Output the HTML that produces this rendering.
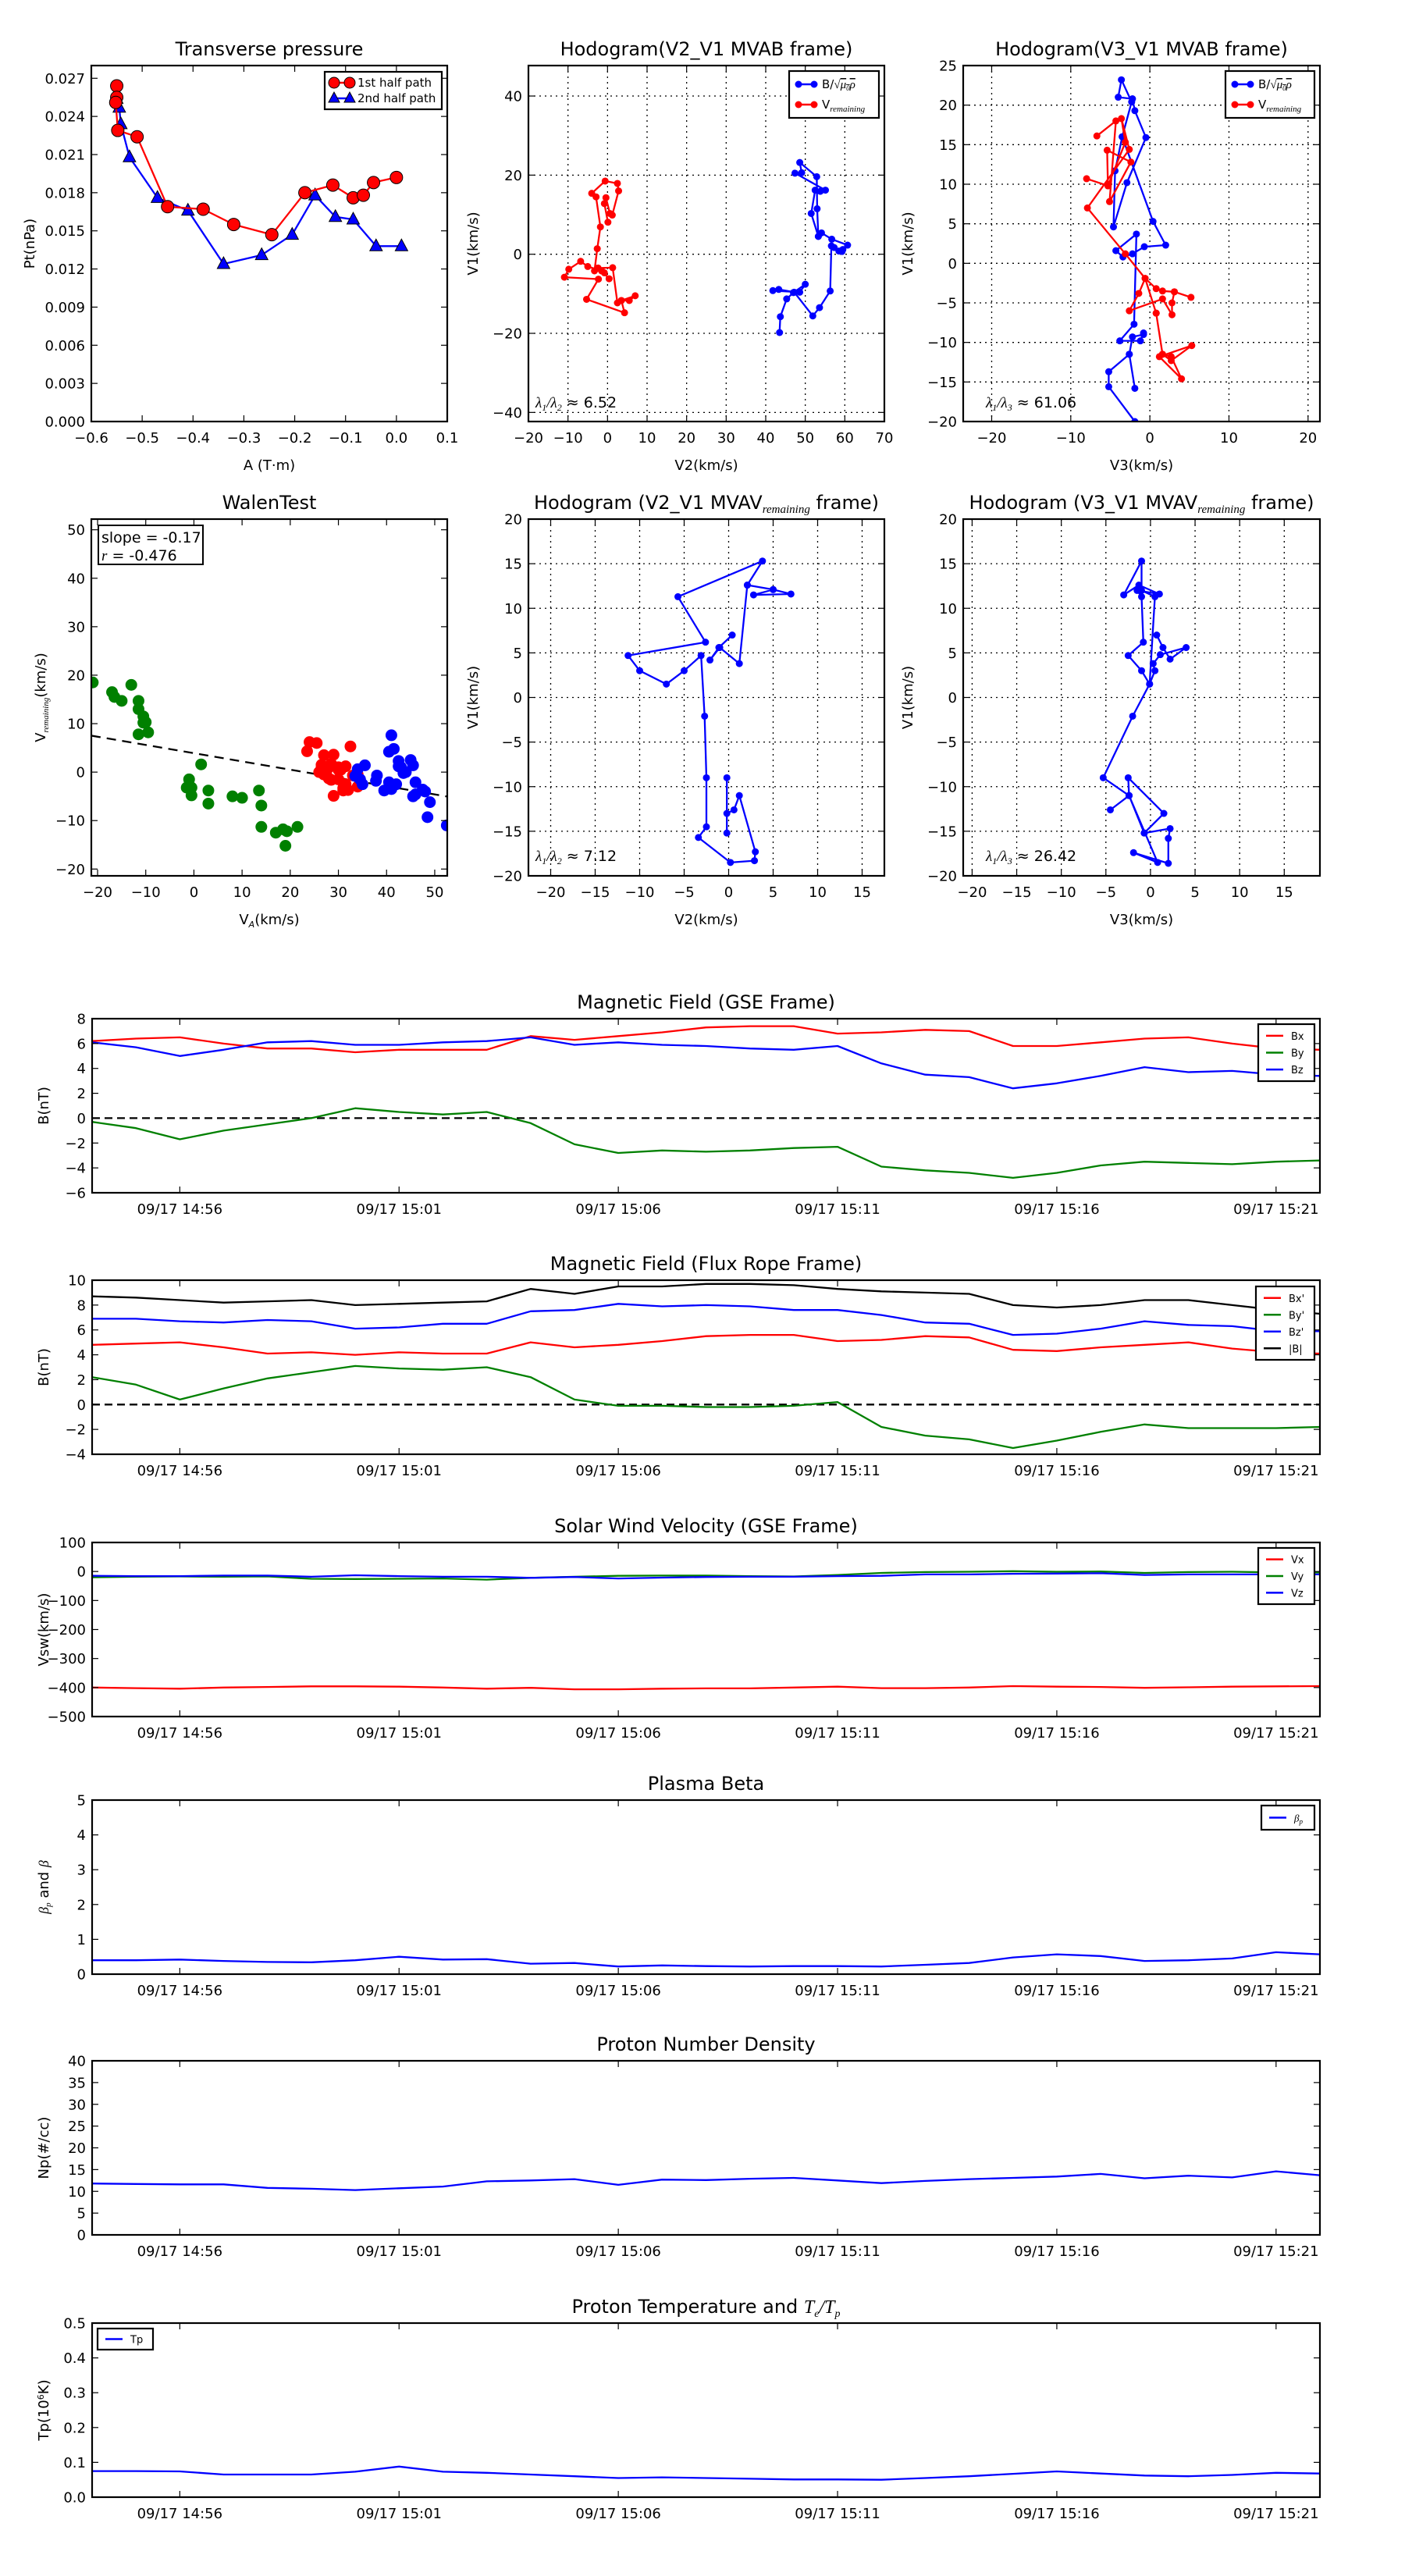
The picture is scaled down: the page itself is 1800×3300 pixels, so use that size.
<!DOCTYPE html>
<html><head><meta charset="utf-8"><style>
html,body{margin:0;padding:0;background:#fff}
svg{display:block;font-family:"DejaVu Sans","Liberation Sans",sans-serif}
</style></head><body>
<svg id="fig" xmlns="http://www.w3.org/2000/svg" width="1800" height="3300" viewBox="0 0 1800 3300"></svg>
<script>
// ---------- data ----------
const ptRedA=[-0.55,-0.55,-0.552,-0.548,-0.51,-0.45,-0.38,-0.32,-0.245,-0.18,-0.125,-0.085,-0.065,-0.045,0.0];
const ptRedP=[0.0264,0.0255,0.0251,0.0229,0.0224,0.0169,0.0167,0.0155,0.0147,0.0180,0.0186,0.0176,0.0178,0.0188,0.0192];
const ptBlueA=[-0.55,-0.545,-0.542,-0.525,-0.47,-0.41,-0.34,-0.265,-0.205,-0.16,-0.12,-0.085,-0.04,0.01];
const ptBlueP=[0.0254,0.0247,0.0234,0.0208,0.0176,0.0166,0.0124,0.0131,0.0147,0.0178,0.0161,0.0159,0.0138,0.0138];

const h1BlueV2=[43.5,43.7,45.3,47,50,48.6,41.8,43.3,47.2,51.9,53.6,56.3,56.6,57.3,59.3,58.5,59.5,60.7,56.7,54.1,53.3,51.5,52.5,53.8,55.1,47.4,49.1,48.6,52.9,53,53.3];
const h1BlueV1=[-19.8,-15.8,-11.3,-9.7,-7.6,-9.6,-9.2,-8.9,-9.6,-15.6,-13.5,-9.3,2.1,1.7,0.7,0.8,1.2,2.3,3.8,5.4,4.5,10.3,16.2,15.9,16.2,20.5,20.6,23.2,19.6,11.5,4.5];
const h1RedV2=[0.1,-0.8,-0.4,0.6,1.2,2.8,2.5,-0.6,-4,-2.9,-1.8,-2.6,-3.3,-2.4,-1.5,-0.8,0.4,-1.5,-5,-6.8,-9.8,-10.9,-2.3,-5.3,4.3,3.5,5.5,7,3.5,2.5,1.3,-2.4];
const h1RedV1=[8.1,12.8,14.3,10.3,9.9,16,17.9,18.5,15.4,14.5,6.9,1.4,-4.2,-3.5,-4.2,-4.7,-6.2,-4.2,-3.1,-1.8,-3.8,-5.8,-6.3,-11.4,-14.8,-11.7,-11.7,-10.5,-11.7,-12.3,-3.4,-3.5];

const h2BlueV3=[-1.9,-5.2,-5.2,-2.6,-1.9,-2.6,-2.2,-0.8,-0.8,-1.2,-3.8,-2,-1.7,-4.3,-3.4,-2.2,-0.7,2,0.4,-3.5,-2.3,-3.6,-4,-2.2,-1.9,-0.5,-2.9,-4.6,-4.4,-3.5];
const h2BlueV1=[-20,-15.6,-13.7,-11.5,-15.8,-11.5,-9.3,-9.0,-8.8,-9.8,-9.8,-7.7,3.7,1.6,0.8,1.2,2.1,2.3,5.3,16,20.4,23.2,21,20.8,19.3,15.9,10.2,4.6,11.7,16];
const h2RedV3=[-6.7,-4.3,-5.1,-2.4,-5.4,-5.3,-8,-5.3,-3.1,-3.6,-2.6,-7.9,-3.1,-0.6,0.8,1.6,3.1,5.2,3.1,2.8,2.8,1.6,-2.6,-1.4,-0.6,0.8,1.6,2.7,5.3,1.2,4,2.7,1.6,0.8];
const h2RedV1=[16.1,18,7.8,12.8,14.3,9.8,10.7,9.8,15.3,18.3,14.4,7,1.2,-1.9,-3.2,-3.5,-3.6,-4.3,-3.6,-5,-6.5,-4.5,-6,-3.8,-1.9,-6.3,-11.5,-12.3,-10.4,-11.8,-14.6,-11.8,-11.5,-6.3];

const walGreenX=[-21,-17,-16.5,-15,-13,-11.5,-11.5,-10.5,-10,-10.5,-11.5,-9.5,1.5,-1,-0.5,-0.5,-1.5,3,3,8,10,13.5,14,14,17,18.5,19.3,19,21.5];
const walGreenY=[18.5,16.5,15.5,14.7,18,14.7,13,11.5,10.3,10.2,7.8,8.2,1.6,-1.5,-3.2,-4.8,-3.2,-3.8,-6.5,-5,-5.3,-3.8,-6.9,-11.3,-12.5,-11.8,-12.2,-15.2,-11.3];
const walRedX=[24,25.5,23.5,27,29,26.5,26,28,28.5,30,30.5,31.5,32.5,27,28,28.5,30,31,31.5,29,33,27.5,26.5,30,34,32,34,31];
const walRedY=[6.2,6,4.3,3.5,3.6,1.5,0,1,1.7,1,0.5,1.2,5.3,-0.5,-1.3,-1.6,-1.5,-3.3,-2.5,-4.9,-0.7,0.2,1,0.5,-0.5,-3.7,-3,-3.8];
const walBlueX=[41,40.5,41.5,42.5,43,44,45,45.5,43.5,42,40.5,38,39.5,35.5,34,33.5,35,34.5,46,45.5,47.5,48,49,48.5,52.5,46,42.5,37.8,41];
const walBlueY=[7.6,4.2,4.8,2.3,1,0,2.5,1.4,-0.2,-2.5,-2.1,-0.7,-3.8,1.4,0.6,-0.8,-2.5,-1.5,-2.1,-5,-3.6,-4,-6.2,-9.3,-11,-4.6,1.2,-1.8,-3.5];

const h3V2=[-0.2,-0.2,-0.2,0.6,1.2,3,2.9,0.2,-3.4,-2.5,-2.5,-2.7,-3.1,-5,-7,-10,-11.3,-2.6,-5.7,3.8,2.1,5,7,2.8,5,2.1,1.2,-1,-2.1,-1.1,0.4];
const h3V1=[-15.2,-9,-13,-12.6,-11,-17.3,-18.3,-18.5,-15.7,-14.5,-9,-2.1,4.7,3,1.5,3,4.7,6.2,11.3,15.3,12.6,12.1,11.6,11.5,12.1,12.6,3.8,5.6,4.2,5.6,7];
const h4V3=[0.7,1.4,2.2,4,1.1,0.3,0.5,-0.1,-1,-2.5,-0.8,-1,-1.5,1,-1.3,-3,-1,-1,0.5,-0.1,-2,-5.3,-2.4,-4.5,-2.4,-0.7,1.5,-2.5,-2.4,0.8,-1.9,2,2,2.2,-0.7];
const h4V1=[7,5.6,4.3,5.6,4.8,3.8,3,1.5,3,4.7,6.2,11.3,12,11.6,12.6,11.5,15.3,12,11.3,1.5,-2.1,-9,-11,-12.6,-11,-15.2,-13,-9,-11,-18.5,-17.4,-18.6,-15.8,-14.7,-15.2];

// time series: minutes after 14:54, one sample per minute
const tMin=[0,1,2,3,4,5,6,7,8,9,10,11,12,13,14,15,16,17,18,19,20,21,22,23,24,25,26,27,28];
const timeTicks=[2,7,12,17,22,27];
const timeLabels=["09/17 14:56","09/17 15:01","09/17 15:06","09/17 15:11","09/17 15:16","09/17 15:21"];
const bx=[6.2,6.4,6.5,6.0,5.6,5.6,5.3,5.5,5.5,5.5,6.6,6.3,6.6,6.9,7.3,7.4,7.4,6.8,6.9,7.1,7.0,5.8,5.8,6.1,6.4,6.5,6.0,5.6,5.5];
const by=[-0.3,-0.8,-1.7,-1.0,-0.5,0.0,0.8,0.5,0.3,0.5,-0.4,-2.1,-2.8,-2.6,-2.7,-2.6,-2.4,-2.3,-3.9,-4.2,-4.4,-4.8,-4.4,-3.8,-3.5,-3.6,-3.7,-3.5,-3.4];
const bz=[6.1,5.7,5.0,5.5,6.1,6.2,5.9,5.9,6.1,6.2,6.5,5.9,6.1,5.9,5.8,5.6,5.5,5.8,4.4,3.5,3.3,2.4,2.8,3.4,4.1,3.7,3.8,3.5,3.4];
const bxp=[4.8,4.9,5.0,4.6,4.1,4.2,4.0,4.2,4.1,4.1,5.0,4.6,4.8,5.1,5.5,5.6,5.6,5.1,5.2,5.5,5.4,4.4,4.3,4.6,4.8,5.0,4.5,4.2,4.1];
const byp=[2.2,1.6,0.4,1.3,2.1,2.6,3.1,2.9,2.8,3.0,2.2,0.4,-0.1,-0.1,-0.2,-0.2,-0.1,0.2,-1.8,-2.5,-2.8,-3.5,-2.9,-2.2,-1.6,-1.9,-1.9,-1.9,-1.8];
const bzp=[6.9,6.9,6.7,6.6,6.8,6.7,6.1,6.2,6.5,6.5,7.5,7.6,8.1,7.9,8.0,7.9,7.6,7.6,7.2,6.6,6.5,5.6,5.7,6.1,6.7,6.4,6.3,5.9,5.9];
const bmag=[8.7,8.6,8.4,8.2,8.3,8.4,8.0,8.1,8.2,8.3,9.3,8.9,9.5,9.5,9.7,9.7,9.6,9.3,9.1,9.0,8.9,8.0,7.8,8.0,8.4,8.4,8.0,7.6,7.3];
const vx=[-400,-402,-404,-400,-398,-396,-396,-397,-400,-404,-401,-406,-406,-404,-403,-403,-400,-397,-402,-402,-400,-395,-397,-398,-401,-399,-397,-396,-395];
const vy=[-20,-18,-17,-18,-17,-25,-26,-25,-24,-28,-22,-18,-15,-14,-14,-16,-17,-12,-5,-2,-1,1,-1,0,-5,-2,-1,-3,-3];
const vz=[-15,-16,-16,-14,-14,-18,-13,-16,-18,-18,-22,-19,-24,-21,-19,-18,-18,-16,-15,-10,-10,-8,-7,-6,-12,-10,-10,-10,-10];
const betaP=[0.4,0.4,0.42,0.38,0.35,0.34,0.4,0.5,0.42,0.43,0.3,0.32,0.22,0.25,0.23,0.22,0.23,0.23,0.22,0.27,0.32,0.48,0.57,0.52,0.38,0.4,0.45,0.63,0.57];
const np=[11.8,11.7,11.6,11.6,10.8,10.6,10.3,10.7,11.1,12.3,12.5,12.8,11.5,12.7,12.6,12.9,13.1,12.5,11.9,12.4,12.8,13.1,13.4,14.0,13.0,13.6,13.2,14.6,13.7];
const tp=[0.075,0.075,0.074,0.065,0.065,0.065,0.073,0.088,0.073,0.07,0.065,0.06,0.055,0.057,0.055,0.053,0.051,0.051,0.05,0.055,0.06,0.067,0.074,0.068,0.062,0.06,0.064,0.07,0.068];

// ---------- helpers ----------
const NS="http://www.w3.org/2000/svg";
const fig=document.getElementById('fig');
let clipN=0;
function el(tag,attrs,parent,text){const e=document.createElementNS(NS,tag);for(const k in attrs)e.setAttribute(k,attrs[k]);if(text!==undefined)e.textContent=text;(parent||fig).appendChild(e);return e;}
function fmt(v,dec){let s=dec!==undefined?Math.abs(v).toFixed(dec):String(Math.abs(+v.toFixed(6)));return (v<0?'\u2212':'')+s;}
function panel(o){
  const g=el('g',{});
  
  
  const sx=v=>o.x+(v-o.xmin)/(o.xmax-o.xmin)*o.w;
  const sy=v=>o.y+o.h-(v-o.ymin)/(o.ymax-o.ymin)*o.h;
  const id='c'+(clipN++);
  const cp=el('clipPath',{id:id},g);el('rect',{x:o.x,y:o.y,width:o.w,height:o.h},cp);
  const data=el('g',{'clip-path':'url(#'+id+')'},g);
  const axg=el('g',{},g);
  // grid
  if(o.grid){
    o.xticks.forEach(t=>{const l=el('line',{x1:sx(t),x2:sx(t),y1:o.y,y2:o.y+o.h,stroke:'#000','stroke-width':1.3,'stroke-dasharray':'2,5'},data);});
    o.yticks.forEach(t=>{el('line',{x1:o.x,x2:o.x+o.w,y1:sy(t),y2:sy(t),stroke:'#000','stroke-width':1.3,'stroke-dasharray':'2,5'},data);});
  }
  // ticks
  const tk=8;
  o.xticks.forEach((t,i)=>{const X=sx(t);
    el('line',{x1:X,x2:X,y1:o.y+o.h,y2:o.y+o.h-tk,stroke:'#000','stroke-width':1.2},axg);
    el('line',{x1:X,x2:X,y1:o.y,y2:o.y+tk,stroke:'#000','stroke-width':1.2},axg);
    const lab=o.xlabels?o.xlabels[i]:fmt(t,o.xdec);
    const tx=el('text',{x:X,y:o.y+o.h+27,'font-size':18,'text-anchor':'middle'},axg,lab);
    
    
  });
  o.yticks.forEach(t=>{const Y=sy(t);
    el('line',{x1:o.x,x2:o.x+tk,y1:Y,y2:Y,stroke:'#000','stroke-width':1.2},axg);
    el('line',{x1:o.x+o.w,x2:o.x+o.w-tk,y1:Y,y2:Y,stroke:'#000','stroke-width':1.2},axg);
    const ty=el('text',{x:o.x-8,y:Y+6.5,'font-size':18,'text-anchor':'end'},axg,fmt(t,o.ydec));
    
    
  });
  el('rect',{x:o.x,y:o.y,width:o.w,height:o.h,fill:'none',stroke:'#000','stroke-width':2.2},axg);
  const tt=el('text',{x:o.x+o.w/2,y:o.y-13,'font-size':o.tsize||24,'text-anchor':'middle'},axg);
  tt.innerHTML=o.title;
  
  
  if(o.xlabel){const xl=el('text',{x:o.x+o.w/2,y:o.y+o.h+62,'font-size':18,'text-anchor':'middle'},axg);xl.innerHTML=o.xlabel;
    
    }
  if(o.ylabel){const yx=o.ylx||o.x-62;const yl=el('text',{x:yx,y:o.y+o.h/2,'font-size':18,'text-anchor':'middle',transform:`rotate(-90 ${yx} ${o.y+o.h/2})`},axg);yl.innerHTML=o.ylabel;
    
    }
  return {sx,sy,data,g};
}
function line(p,xs,ys,color,name,marker,dash){
  const pts=xs.map((x,i)=>p.sx(x).toFixed(1)+','+p.sy(ys[i]).toFixed(1)).join(' ');
  const pl=el('polyline',{points:pts,fill:'none',stroke:color,'stroke-width':2.3,'stroke-linejoin':'round'},p.data);
  if(dash)pl.setAttribute('stroke-dasharray',dash);
  
  
  if(marker){xs.forEach((x,i)=>{
    let m;
    if(marker==='tri'){const X=p.sx(x),Y=p.sy(ys[i]);m=el('polygon',{points:`${X},${Y-9} ${X-8},${Y+6} ${X+8},${Y+6}`,fill:color,stroke:'#000','stroke-width':1},p.data);}
    else if(marker==='big'){m=el('circle',{cx:p.sx(x),cy:p.sy(ys[i]),r:8,fill:color,stroke:'#000','stroke-width':1},p.data);}
    else {m=el('circle',{cx:p.sx(x),cy:p.sy(ys[i]),r:4.5,fill:color},p.data);}
    
    
  });}
}
function scatter(p,xs,ys,color,name){xs.forEach((x,i)=>{const c=el('circle',{cx:p.sx(x),cy:p.sy(ys[i]),r:7.5,fill:color},p.data);
  
  });}
function legend(x,y,w,h,items,name,fs){
  const g=el('g',{});
  
  
  el('rect',{x:x,y:y,width:w,height:h,fill:'#fff',stroke:'#000','stroke-width':2.2},g);
  const step=(h-8)/items.length;
  items.forEach((it,i)=>{const Y=y+4+step*(i+0.5);
    el('line',{x1:x+10,x2:x+32,y1:Y,y2:Y,stroke:it.c,'stroke-width':2.5},g);
    if(it.m==='dot'){el('circle',{cx:x+12,cy:Y,r:4.5,fill:it.c},g);el('circle',{cx:x+32,cy:Y,r:4.5,fill:it.c},g);}
    if(it.m==='big'){el('circle',{cx:x+12,cy:Y,r:7,fill:it.c,stroke:'#000'},g);el('circle',{cx:x+32,cy:Y,r:7,fill:it.c,stroke:'#000'},g);}
    if(it.m==='tri'){[x+12,x+32].forEach(X=>el('polygon',{points:`${X},${Y-8} ${X-7},${Y+5} ${X+7},${Y+5}`,fill:it.c,stroke:'#000'},g));}
    const t=el('text',{x:x+42,y:Y+5,'font-size':fs||14},g);t.innerHTML=it.t;
    
    
  });
}
function note(x,y,html,name,fs){const t=el('text',{x:x,y:y,'font-size':fs||19},fig);t.innerHTML=html;
  
  }

const remSub='<tspan font-style="italic" font-family="Liberation Serif" font-size="11" dy="4">remaining</tspan>';
const sqrtTxt='B/<tspan font-family="Liberation Serif">√</tspan><tspan font-style="italic" font-family="Liberation Serif" text-decoration="overline">μ<tspan font-size="9" dy="3">0</tspan><tspan dy="-3">ρ</tspan></tspan>';

// ---------- top row ----------
const pA=panel({name:'transverse-pressure-panel',x:117,y:84,w:456,h:456,xmin:-0.6,xmax:0.1,ymin:0,ymax:0.028,
  xticks:[-0.6,-0.5,-0.4,-0.3,-0.2,-0.1,0,0.1],yticks:[0,0.003,0.006,0.009,0.012,0.015,0.018,0.021,0.024,0.027],xdec:1,ydec:3,
  title:'Transverse pressure',xlabel:'A (T·m)',ylabel:'Pt(nPa)',ylx:44});
line(pA,ptBlueA,ptBlueP,'#0000ff','second-half-path','tri');
line(pA,ptRedA,ptRedP,'#ff0000','first-half-path','big');
legend(416,92,150,48,[{c:'#ff0000',m:'big',t:'1st half path'},{c:'#0000ff',m:'tri',t:'2nd half path'}],'pressure-legend',15);

const pB=panel({name:'hodogram-v2-v1-mvab',x:677,y:84,w:456,h:456,xmin:-20,xmax:70,ymin:-42.3,ymax:47.7,
  xticks:[-20,-10,0,10,20,30,40,50,60,70],yticks:[-40,-20,0,20,40],grid:true,
  title:'Hodogram(V2_V1 MVAB frame)',xlabel:'V2(km/s)',ylabel:'V1(km/s)',ylx:612});
line(pB,h1BlueV2,h1BlueV1,'#0000ff','b-hodogram-v2','dot');
line(pB,h1RedV2,h1RedV1,'#ff0000','v-hodogram-v2','dot');
legend(1011,91,115,60,[{c:'#0000ff',m:'dot',t:sqrtTxt},{c:'#ff0000',m:'dot',t:'V'+remSub}],'hodogram-v2-legend',15);
note(686,522,'<tspan font-family="Liberation Serif" font-style="italic">λ<tspan font-size="12" dy="4">1</tspan><tspan dy="-4">/λ</tspan><tspan font-size="12" dy="4">2</tspan></tspan><tspan dy="-4"> ≈ 6.52</tspan>','eigen-ratio-label');

const pC=panel({name:'hodogram-v3-v1-mvab',x:1234,y:84,w:457,h:456,xmin:-23.6,xmax:21.5,ymin:-20,ymax:25,
  xticks:[-20,-10,0,10,20],yticks:[-20,-15,-10,-5,0,5,10,15,20,25],grid:true,
  title:'Hodogram(V3_V1 MVAB frame)',xlabel:'V3(km/s)',ylabel:'V1(km/s)',ylx:1169});
line(pC,h2BlueV3,h2BlueV1,'#0000ff','b-hodogram-v3','dot');
line(pC,h2RedV3,h2RedV1,'#ff0000','v-hodogram-v3','dot');
legend(1570,91,114,60,[{c:'#0000ff',m:'dot',t:sqrtTxt},{c:'#ff0000',m:'dot',t:'V'+remSub}],'hodogram-v3-legend',15);
note(1263,522,'<tspan font-family="Liberation Serif" font-style="italic">λ<tspan font-size="12" dy="4">1</tspan><tspan dy="-4">/λ</tspan><tspan font-size="12" dy="4">3</tspan></tspan><tspan dy="-4"> ≈ 61.06</tspan>','eigen-ratio-label');

// ---------- second row ----------
const pD=panel({name:'walen-test-panel',x:117,y:665,w:456,h:457,xmin:-21.3,xmax:52.6,ymin:-21.4,ymax:52.2,
  xticks:[-20,-10,0,10,20,30,40,50],yticks:[-20,-10,0,10,20,30,40,50],
  title:'WalenTest',xlabel:'V<tspan font-size="11" font-style="italic" dy="4">A</tspan><tspan dy="-4">(km/s)</tspan>',ylabel:'V'+remSub+'<tspan dy="-4">(km/s)</tspan>',ylx:58});
const walSlope=-0.17, walIcpt=3.9;
line(pD,[-21.3,52.6],[walIcpt+walSlope*-21.3,walIcpt+walSlope*52.6],'#000','walen-fit-line',null,'12,8');
scatter(pD,walGreenX,walGreenY,'#008000','walen-point-green');
scatter(pD,walRedX,walRedY,'#ff0000','walen-point-red');
scatter(pD,walBlueX,walBlueY,'#0000ff','walen-point-blue');
(function(){const g=el('g',{});
 el('rect',{x:126,y:673,width:134,height:50,fill:'#fff',stroke:'#000','stroke-width':2},g);
 el('text',{x:130,y:695,'font-size':19},g,'slope = -0.17');
 const t=el('text',{x:130,y:718,'font-size':19},g);t.innerHTML='<tspan font-family="Liberation Serif" font-style="italic">r</tspan> = -0.476';})();

const pE=panel({name:'hodogram-v2-v1-mvav',x:677,y:665,w:456,h:457,xmin:-22.5,xmax:17.5,ymin:-20,ymax:20,
  xticks:[-20,-15,-10,-5,0,5,10,15],yticks:[-20,-15,-10,-5,0,5,10,15,20],grid:true,
  title:'Hodogram (V2_V1 MVAV<tspan font-family="Liberation Serif" font-style="italic" font-size="15" dy="5">remaining</tspan><tspan dy="-5"> frame)</tspan>',xlabel:'V2(km/s)',ylabel:'V1(km/s)',ylx:612});
line(pE,h3V2,h3V1,'#0000ff','v-hodogram-mvav-v2','dot');
note(686,1103,'<tspan font-family="Liberation Serif" font-style="italic">λ<tspan font-size="12" dy="4">1</tspan><tspan dy="-4">/λ</tspan><tspan font-size="12" dy="4">2</tspan></tspan><tspan dy="-4"> ≈ 7.12</tspan>','eigen-ratio-label');

const pF=panel({name:'hodogram-v3-v1-mvav',x:1234,y:665,w:457,h:457,xmin:-21,xmax:19,ymin:-20,ymax:20,
  xticks:[-20,-15,-10,-5,0,5,10,15],yticks:[-20,-15,-10,-5,0,5,10,15,20],grid:true,
  title:'Hodogram (V3_V1 MVAV<tspan font-family="Liberation Serif" font-style="italic" font-size="15" dy="5">remaining</tspan><tspan dy="-5"> frame)</tspan>',xlabel:'V3(km/s)',ylabel:'V1(km/s)',ylx:1169});
line(pF,h4V3,h4V1,'#0000ff','v-hodogram-mvav-v3','dot');
note(1263,1103,'<tspan font-family="Liberation Serif" font-style="italic">λ<tspan font-size="12" dy="4">1</tspan><tspan dy="-4">/λ</tspan><tspan font-size="12" dy="4">3</tspan></tspan><tspan dy="-4"> ≈ 26.42</tspan>','eigen-ratio-label');

// ---------- time series ----------
function tpanel(name,y,ymin,ymax,yticks,title,ylabel,ydec){
  return panel({name:name,x:118,y:y,w:1573,h:223,xmin:0,xmax:28,ymin:ymin,ymax:ymax,xticks:timeTicks,xlabels:timeLabels,
    yticks:yticks,ydec:ydec,title:title,ylabel:ylabel,ylx:62,tsize:24});
}
const T1=tpanel('magnetic-field-gse-panel',1305,-6,8,[-6,-4,-2,0,2,4,6,8],'Magnetic Field (GSE Frame)','B(nT)');
line(T1,[0,28],[0,0],'#000','zero-line',null,'10,6');
line(T1,tMin,bx,'#ff0000','bx-line');line(T1,tMin,by,'#008000','by-line');line(T1,tMin,bz,'#0000ff','bz-line');
legend(1612,1312,72,73,[{c:'#ff0000',t:'Bx'},{c:'#008000',t:'By'},{c:'#0000ff',t:'Bz'}],'gse-b-legend',13);

const T2=tpanel('magnetic-field-flux-rope-panel',1640,-4,10,[-4,-2,0,2,4,6,8,10],'Magnetic Field (Flux Rope Frame)','B(nT)');
line(T2,[0,28],[0,0],'#000','zero-line',null,'10,6');
line(T2,tMin,bmag,'#000','bmag-line');line(T2,tMin,bzp,'#0000ff','bz-prime-line');line(T2,tMin,bxp,'#ff0000','bx-prime-line');line(T2,tMin,byp,'#008000','by-prime-line');
legend(1609,1648,75,94,[{c:'#ff0000',t:"Bx'"},{c:'#008000',t:"By'"},{c:'#0000ff',t:"Bz'"},{c:'#000',t:'|B|'}],'flux-rope-legend',13);

const T3=tpanel('solar-wind-velocity-panel',1976,-500,100,[-500,-400,-300,-200,-100,0,100],'Solar Wind Velocity (GSE Frame)','Vsw(km/s)');
line(T3,tMin,vx,'#ff0000','vx-line');line(T3,tMin,vy,'#008000','vy-line');line(T3,tMin,vz,'#0000ff','vz-line');
legend(1612,1983,72,72,[{c:'#ff0000',t:'Vx'},{c:'#008000',t:'Vy'},{c:'#0000ff',t:'Vz'}],'velocity-legend',13);

const T4=tpanel('plasma-beta-panel',2306,0,5,[0,1,2,3,4,5],'Plasma Beta','<tspan font-family="Liberation Serif" font-style="italic">β<tspan font-size="11" dy="3">p</tspan></tspan><tspan dy="-3"> and </tspan><tspan font-family="Liberation Serif" font-style="italic">β</tspan>');
line(T4,tMin,betaP,'#0000ff','beta-p-line');
legend(1616,2313,68,31,[{c:'#0000ff',t:'<tspan font-family="Liberation Serif" font-style="italic">β<tspan font-size="9" dy="3">p</tspan></tspan>'}],'beta-legend',13);

const T5=tpanel('proton-density-panel',2640,0,40,[0,5,10,15,20,25,30,35,40],'Proton Number Density','Np(#/cc)');
line(T5,tMin,np,'#0000ff','np-line');

const T6=tpanel('proton-temperature-panel',2976,0,0.5,[0,0.1,0.2,0.3,0.4,0.5],'Proton Temperature and <tspan font-family="Liberation Serif" font-style="italic">T<tspan font-size="14" dy="5">e</tspan><tspan dy="-5">/T</tspan><tspan font-size="14" dy="5">p</tspan></tspan>','Tp(10<tspan font-size="11" dy="-6">6</tspan><tspan dy="6">K)</tspan>',1);
line(T6,tMin,tp,'#0000ff','tp-line');
legend(125,2983,71,27,[{c:'#0000ff',t:'Tp'}],'tp-legend',13);
</script>
</body></html>
